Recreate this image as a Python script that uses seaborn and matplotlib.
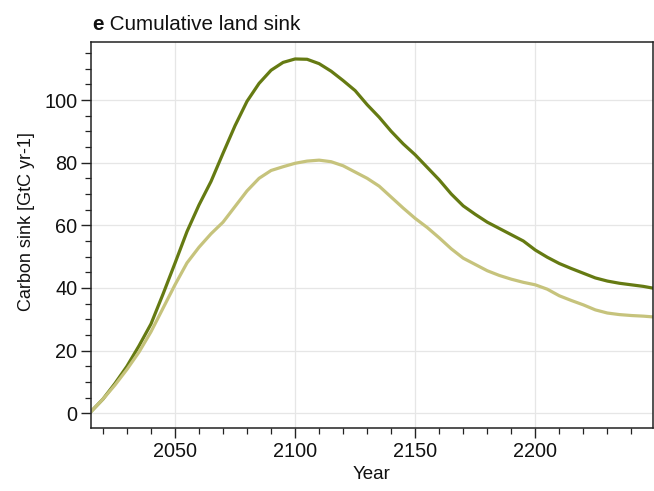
import numpy as np
import pandas as pd
import matplotlib
matplotlib.use("Agg")
import matplotlib.pyplot as plt
from matplotlib.ticker import MultipleLocator
import seaborn as sns

years = list(range(2015, 2251, 5))
sink_high = [0.5, 4.5, 9.5, 15.0, 21.5, 28.5, 38.0, 47.9, 58.0, 66.5, 74.0, 83.0,
             91.8, 99.6, 105.3, 109.5, 112.0, 113.1, 113.0, 111.6, 109.2, 106.2,
             103.0, 98.5, 94.5, 90.0, 86.0, 82.5, 78.5, 74.5, 70.0, 66.2, 63.5,
             61.0, 59.0, 57.0, 55.0, 52.1, 49.8, 47.8, 46.2, 44.7, 43.2, 42.2,
             41.5, 41.0, 40.5, 39.8]
sink_low = [0.5, 4.5, 9.0, 14.0, 19.5, 26.0, 33.5, 41.0, 48.0, 53.0, 57.3, 61.0,
            66.0, 71.0, 75.0, 77.5, 78.7, 79.8, 80.5, 80.8, 80.3, 79.0, 77.0,
            75.0, 72.5, 69.0, 65.5, 62.2, 59.3, 56.0, 52.5, 49.5, 47.5, 45.5,
            44.0, 42.8, 41.8, 41.0, 39.6, 37.5, 36.0, 34.6, 33.0, 32.0, 31.5,
            31.2, 31.0, 30.7]
series_names = ["high", "low"]
series_colors = ["#657a12", "#c6c37c"]

df = pd.DataFrame({
    "Year": years * 2,
    "sink": sink_high + sink_low,
    "scenario": [series_names[0]] * len(years) + [series_names[1]] * len(years),
})

sns.set_style("white")
plt.rcParams["font.family"] = ["Liberation Sans", "DejaVu Sans"]
plt.rcParams["text.color"] = "#111111"
plt.rcParams["axes.labelcolor"] = "#111111"
plt.rcParams["xtick.color"] = "#111111"
plt.rcParams["ytick.color"] = "#111111"

fig = plt.figure(figsize=(6.54, 4.91), dpi=100)
ax = fig.add_axes([0.139, 0.1277, 0.8595, 0.7873])

sns.lineplot(data=df, x="Year", y="sink", hue="scenario", palette=series_colors,
             linewidth=2.3, legend=False, ax=ax)

ax.set_xlim(2015, 2249)
ax.set_ylim(-4.8, 118.6)
ax.xaxis.set_major_locator(MultipleLocator(50))
ax.xaxis.set_minor_locator(MultipleLocator(10))
ax.yaxis.set_major_locator(MultipleLocator(20))
ax.yaxis.set_minor_locator(MultipleLocator(5))

ax.grid(True, which="major", color="#e6e6e6", linewidth=0.9)
ax.set_axisbelow(True)
for s in ax.spines.values():
    s.set_visible(True)
    s.set_color("#222222")
    s.set_linewidth(1.1)

ax.tick_params(axis="both", which="major", direction="out", length=7.5, width=1.0,
               color="#222222", labelsize=14.3, pad=2.3, left=True, bottom=True)
ax.tick_params(axis="both", which="minor", direction="out", length=4, width=0.9,
               color="#222222", left=True, bottom=True)

ax.set_xlabel("Year", fontsize=13.5, labelpad=3.6)
ax.set_ylabel("Carbon sink [GtC yr-1]", fontsize=13, labelpad=6.5)
ax.yaxis.label.set_y(0.536)

t1 = ax.annotate("e", xy=(0, 1), xycoords="axes fraction", xytext=(0.8, 8.4),
                 textcoords="offset points", fontsize=14.9, fontweight="bold",
                 va="baseline", ha="left")
ax.annotate(" Cumulative land sink", xy=(1, 0), xycoords=t1, fontsize=14.9,
            va="bottom", ha="left")

fig.savefig("out.png", dpi=100)
